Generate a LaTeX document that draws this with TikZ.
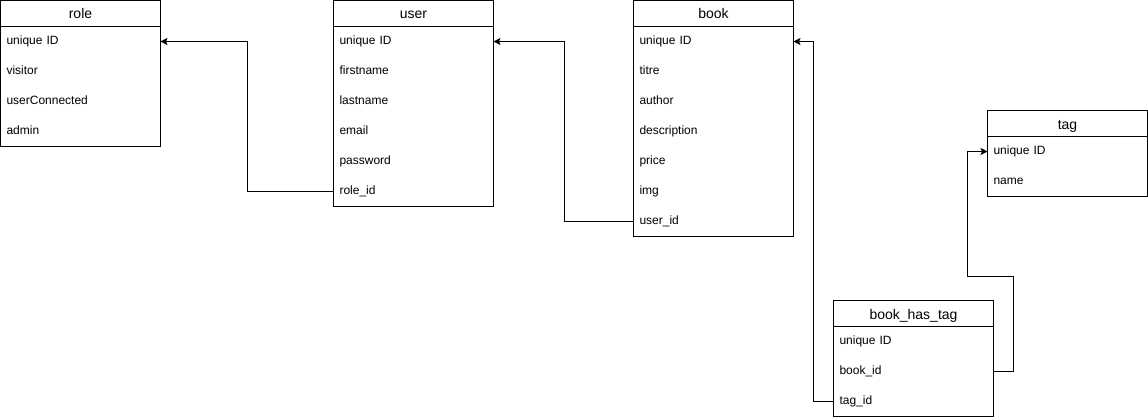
\documentclass[tikz,border=0pt]{standalone}
\usepackage{fontspec}
\setmainfont{Liberation Sans}
\usetikzlibrary{arrows.meta}

\tikzset{
  hdr/.style={draw, minimum width=160pt, minimum height=26pt, inner sep=0pt, outer sep=0pt, anchor=north west, text height=11pt, text depth=0pt, font=\fontsize{14}{16}\selectfont},
  fld/.style={minimum height=30pt, text width=148pt, inner xsep=6pt, inner ysep=0pt, outer sep=0pt, align=left, anchor=north west, text height=9pt, text depth=3pt, font=\fontsize{12}{14}\selectfont},
  fk/.style={-{Stealth[length=7pt,width=7pt,inset=1.5pt]}},
}

\begin{document}
\begin{tikzpicture}[x=1pt,y=-1pt,line width=1pt]
\useasboundingbox (0,0) rectangle (1148,420);

%Table role
\node[hdr] (role) at (0.5,0.5) {role};
\node[fld] (role1) at (role.south west) {unique ID};
\node[fld] (role2) at (role1.south west) {visitor};
\node[fld] (role3) at (role2.south west) {userConnected};
\node[fld] (role4) at (role3.south west) {admin};
\draw (role.south west) rectangle (role4.south east);

%Table user
\node[hdr] (user) at (333.5,0.5) {user};
\node[fld] (user1) at (user.south west) {unique ID};
\node[fld] (user2) at (user1.south west) {firstname};
\node[fld] (user3) at (user2.south west) {lastname};
\node[fld] (user4) at (user3.south west) {email};
\node[fld] (user5) at (user4.south west) {password};
\node[fld] (user6) at (user5.south west) {role\_id};
\draw (user.south west) rectangle (user6.south east);

%Table book
\node[hdr] (book) at (633.5,0.5) {book};
\node[fld] (book1) at (book.south west) {unique ID};
\node[fld] (book2) at (book1.south west) {titre};
\node[fld] (book3) at (book2.south west) {author};
\node[fld] (book4) at (book3.south west) {description};
\node[fld] (book5) at (book4.south west) {price};
\node[fld] (book6) at (book5.south west) {img};
\node[fld] (book7) at (book6.south west) {user\_id};
\draw (book.south west) rectangle (book7.south east);

%Table tag
\node[hdr] (tag) at (987.5,110.5) {tag};
\node[fld] (tag1) at (tag.south west) {unique ID};
\node[fld] (tag2) at (tag1.south west) {name};
\draw (tag.south west) rectangle (tag2.south east);

%Table book_has_tag
\node[hdr] (bht) at (833.5,300.5) {book\_has\_tag};
\node[fld] (bht1) at (bht.south west) {unique ID};
\node[fld] (bht2) at (bht1.south west) {book\_id};
\node[fld] (bht3) at (bht2.south west) {tag\_id};
\draw (bht.south west) rectangle (bht3.south east);

%Straight Lines
\draw[fk] (user6.west) -- ++(-86,0) |- (role1.east);
\draw[fk] (book7.west) -- ++(-69,0) |- (user1.east);
\draw[fk] (bht3.west) -- ++(-20,0) |- (book1.east);
\draw[fk] (bht2.east) -- ++(20,0) -- ++(0,-95) -- ++(-46,0) |- (tag1.west);

\end{tikzpicture}
\end{document}
